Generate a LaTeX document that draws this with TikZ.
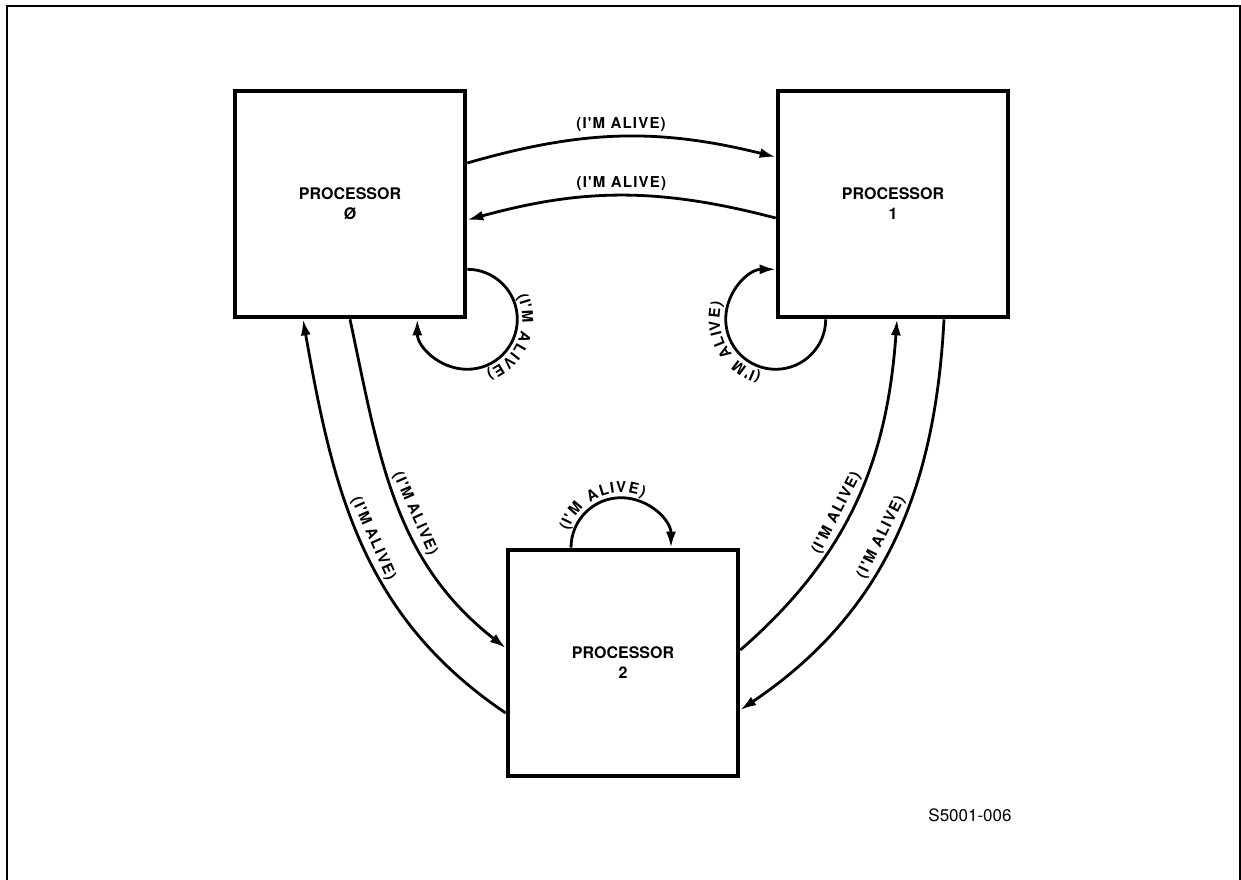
\documentclass[tikz,border=0pt]{standalone}
\usepackage{fontspec}
\setsansfont{TeX Gyre Heros}
\newfontfamily\alivefont{TeX Gyre Heros}[LetterSpace=8]
\usetikzlibrary{arrows.meta,positioning,calc,decorations.text}
\newcommand{\alive}{(I'M ALIVE)}

\begin{document}
\begin{tikzpicture}[x=0.5pt,y=0.5pt,>={Latex[length=8pt,width=5pt]},
  proc/.style={draw,line width=2.3pt,minimum width=115pt,minimum height=113pt,
    align=center,font=\sffamily\bfseries\fontsize{8}{10}\selectfont},
  msg/.style={->,line width=1.4pt},
  lbl/.style={font=\alivefont\bfseries\fontsize{7.5}{8}\selectfont,inner sep=2pt},
  looplbl/.style={decoration={text effects along path,text={(I'M ALIVE)},
    text effects/.cd,text along path,fit text to path,
    characters={inner sep=0pt,font=\alivefont\bfseries\fontsize{7.5}{8}\selectfont}},decorate}]
  \useasboundingbox (0,0) rectangle (1241,879);
  \draw[line width=1pt] (7,-5) -- (7,873) -- (1240,873) -- (1240,-5);
  % the three processors
  \foreach \n/\x/\y/\t in {0/350/675/Ø,1/893/675/1,2/623/216/2}
    {\node[proc] (p\n) at (\x,\y) {PROCESSOR\\\t};}
  % 0 <-> 1
  \draw[msg] ($(p0.east)+(0,41)$) to[bend left=15] node[lbl,above] {\alive} ($(p1.west)+(0,47)$);
  \draw[msg] ($(p1.west)+(0,-14)$) to[bend right=15] node[lbl,above] {\alive} ($(p0.east)+(0,-16)$);
  % 0 <-> 2
  \draw[msg] ($(p2.west)+(0,-50)$) to[out=146,in=-80] node[lbl,sloped,above,pos=.5] {\alive} ($(p0.south)+(-47,0)$);
  \draw[msg] (p0.south) to[out=-78,in=142] node[lbl,sloped,above,pos=.55] {\alive} ($(p2.west)+(0,15)$);
  % 2 <-> 1
  \draw[msg] ($(p2.east)+(0,13)$) to[out=41,in=-94] node[lbl,sloped,above,pos=.45] {\alive} ($(p1.south)+(4,0)$);
  \draw[msg] ($(p1.south)+(51,0)$) to[out=-93,in=34] node[lbl,sloped,above,pos=.5] {\alive} ($(p2.east)+(0,-47)$);
  % each processor to itself
  \draw[msg] ($(p0.south east)+(0,50)$) arc[start angle=90,end angle=-180,radius=50];
  \path[looplbl] ($(p0.south east)+(25:55)$) arc[start angle=25,end angle=-70,radius=55];
  \draw[msg] ($(p1.south west)+(50,0)$) arc[start angle=0,end angle=-270,radius=50];
  \path[looplbl] ($(p1.south west)+(-105:56)$) arc[start angle=-105,end angle=-197,radius=56];
  \draw[msg] ($(p2.north)+(-52,0)$) arc[start angle=180,end angle=0,radius=50];
  \path[looplbl] ($(p2.north)+(-2,0)+(162:55)$) arc[start angle=162,end angle=66,radius=55];
  \node[font=\sffamily\fontsize{8.5}{10}\selectfont] (figid) at (970,64) {S5001-006};
\end{tikzpicture}
\end{document}
